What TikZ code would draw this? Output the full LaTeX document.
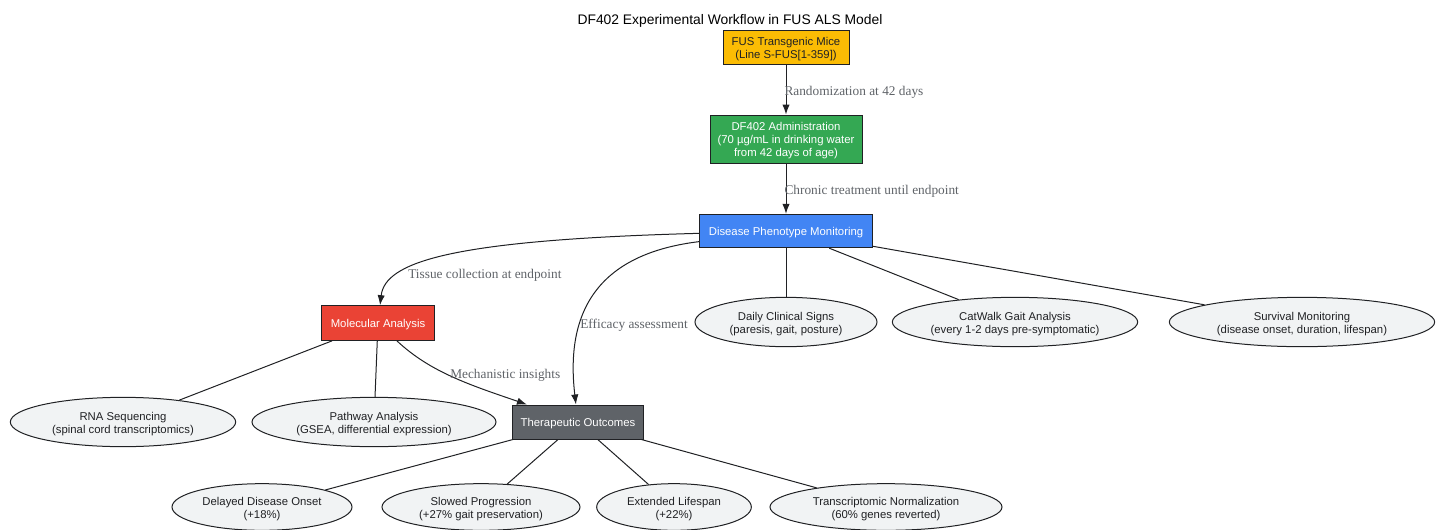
\documentclass[tikz,border=0pt]{standalone}
\usepackage{fontspec}
\setmainfont{Liberation Sans}
\newfontfamily\edgefont{Liberation Serif}
\usepackage{tikz}
\usetikzlibrary{arrows.meta}
\usetikzlibrary{shapes.geometric}
\definecolor{micecol}{HTML}{FBBC04}
\definecolor{drugcol}{HTML}{34A853}
\definecolor{moncol}{HTML}{4285F4}
\definecolor{molcol}{HTML}{EA4335}
\definecolor{outcol}{HTML}{5F6368}
\definecolor{ovalcol}{HTML}{F1F3F4}
\definecolor{labcol}{HTML}{5F6368}
\definecolor{inkcol}{HTML}{202124}
\tikzset{>={Latex[length=7.5pt,width=5.5pt]}}
\tikzstyle{stage} = [rectangle, draw=inkcol, line width=.75pt, inner sep=2pt, font=\fontsize{8.5}{9.75}\selectfont]
\tikzstyle{oval} = [ellipse, draw=inkcol, fill=ovalcol, line width=.75pt, inner sep=0pt, minimum height=37pt, text=inkcol, font=\fontsize{8.5}{9.75}\selectfont]
\tikzstyle{lbl} = [draw=none, inner sep=0, anchor=west, text=labcol, font=\edgefont\fontsize{10}{12}\selectfont]
\tikzstyle{link} = [-, line width=.75pt, draw=inkcol]
\tikzstyle{flow} = [->, line width=.75pt, draw=inkcol]
\newcommand{\stagetext}[1]{\raisebox{-1.5pt}[\height][\depth]{\begin{tabular}{@{}c@{}}#1\end{tabular}}}
\newcommand{\ovaltext}[2]{\makebox[0pt]{\stagetext{#1\\#2}}}

\begin{document}
\begin{tikzpicture}[x=.75pt, y=-.75pt]
\useasboundingbox (0,0) rectangle (1443,529);
\node [draw=none, font=\fontsize{10.4}{12}\selectfont] (title) at (730, 21) {DF402 Experimental Workflow in FUS ALS Model};
% main stages
\node [stage, fill=micecol, text=inkcol, minimum width=94.5pt, minimum height=25.5pt] (F) at (786, 47) {\stagetext{FUS Transgenic Mice\\(Line S-FUS[1-359])}};
\node [stage, fill=drugcol, text=white, minimum width=114pt, minimum height=36pt] (D) at (786, 139) {\stagetext{DF402 Administration\\(70 µg/mL in drinking water\\from 42 days of age)}};
\node [stage, fill=moncol, text=white, minimum width=130pt, minimum height=25pt] (P) at (786, 231) {\stagetext{Disease Phenotype Monitoring}};
\node [stage, fill=molcol, text=white, minimum width=85pt, minimum height=26pt] (M) at (378, 323) {\stagetext{Molecular Analysis}};
\node [stage, fill=outcol, text=white, minimum width=98pt, minimum height=25.5pt] (T) at (578, 422) {\stagetext{Therapeutic Outcomes}};
% monitoring
\node [oval, minimum width=136.5pt] (S1) at (786, 322) {\ovaltext{Daily Clinical Signs}{(paresis, gait, posture)}};
\node [oval, minimum width=184pt] (S2) at (1015, 322) {\ovaltext{CatWalk Gait Analysis}{(every 1-2 days pre-symptomatic)}};
\node [oval, minimum width=199pt] (S3) at (1302, 322) {\ovaltext{Survival Monitoring}{(disease onset, duration, lifespan)}};
% molecular
\node [oval, minimum width=169pt] (R1) at (123, 422) {\ovaltext{RNA Sequencing}{(spinal cord transcriptomics)}};
\node [oval, minimum width=183pt] (R2) at (374, 422) {\ovaltext{Pathway Analysis}{(GSEA, differential expression)}};
% outcomes
\node [oval, minimum width=135pt, minimum height=35pt] (O1) at (262, 507) {\ovaltext{Delayed Disease Onset}{(+18\%)}};
\node [oval, minimum width=148.5pt, minimum height=35pt] (O2) at (481, 507) {\ovaltext{Slowed Progression}{(+27\% gait preservation)}};
\node [oval, minimum width=116pt, minimum height=35pt] (O3) at (674, 507) {\ovaltext{Extended Lifespan}{(+22\%)}};
\node [oval, minimum width=174pt, minimum height=35pt] (O4) at (886, 507) {\ovaltext{Transcriptomic Normalization}{(60\% genes reverted)}};

\draw [flow] (F) -- node [lbl, pos=.5, xshift=-1.5pt, yshift=-2pt] (l1) {Randomization at 42 days} (D);
\draw [flow] (D) -- node [lbl, pos=.5, xshift=-1.5pt, yshift=-2pt] (l2) {Chronic treatment until endpoint} (P);
\draw [flow] (P) .. controls (450, 240) and (385, 262) .. (M);
\draw [flow] (P) .. controls (590, 255) and (566, 320) .. (T);
\draw [flow] (M) .. controls (430, 372) and (470, 385) .. (T);
\node [lbl] (l3) at (408, 275) {Tissue collection at endpoint};
\node [lbl] (l4) at (580, 325) {Efficacy assessment};
\node [lbl] (l5) at (450, 375) {Mechanistic insights};

\draw [link] (P) -- (S1);
\draw [link] (P) -- (S2);
\draw [link] (P) -- (S3);
\draw [link] (M) -- (R1);
\draw [link] (M) -- (R2);
\draw [link] (T) -- (O1);
\draw [link] (T) -- (O2);
\draw [link] (T) -- (O3);
\draw [link] (T) -- (O4);
\end{tikzpicture}
\end{document}
